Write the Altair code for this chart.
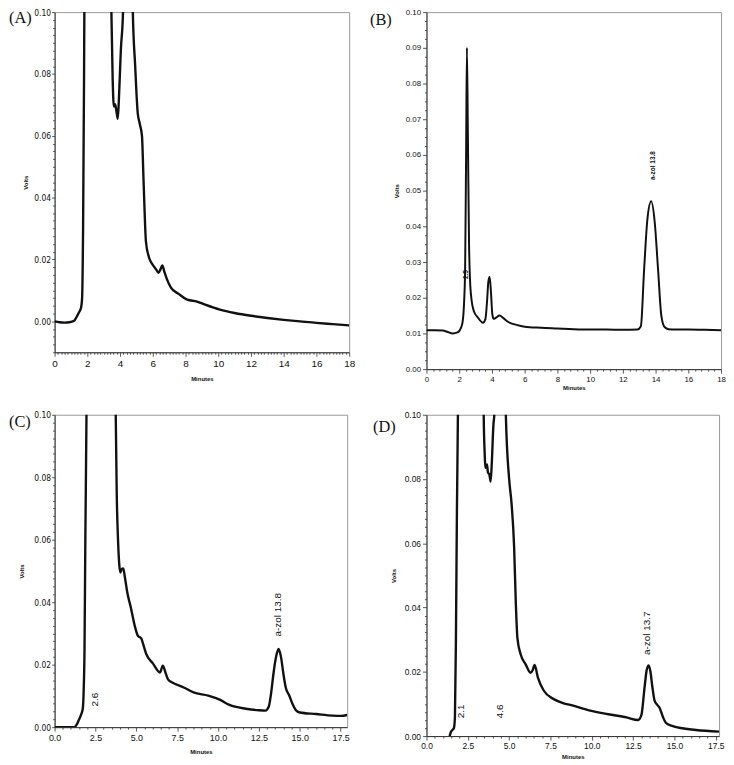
import altair as alt
import pandas as pd
import numpy as np

# ---------------- data (minutes, volts) ----------------
# Panel A
a_x = [0, 0.3, 0.6, 0.9, 1.2, 1.35, 1.5, 1.62, 1.68, 1.74, 1.80, 1.86, 2.2, 3.0, 3.35, 3.47,
       3.55, 3.62, 3.68, 3.72, 3.8, 3.86, 3.93, 4.05, 4.18, 4.3, 4.5, 4.65, 4.78, 4.92, 5.08,
       5.2, 5.34, 5.42, 5.48, 5.58, 5.78, 5.98, 6.2, 6.35, 6.47, 6.58, 6.7, 6.85, 7.1, 7.6,
       8.1, 8.7, 9.2, 10.1, 11.0, 12.0, 13.0, 14.0, 15.0, 16.0, 17.0, 18.0]
a_y = [0.0, -0.0003, -0.0004, -0.0003, 0.0002, 0.0015, 0.0030, 0.0045, 0.0075, 0.030, 0.080, 0.15,
       0.5, 0.5, 0.16, 0.10, 0.078, 0.0695, 0.0702, 0.0698, 0.0672, 0.0655, 0.072, 0.088, 0.10,
       0.14, 0.4, 0.3, 0.10, 0.083, 0.0673, 0.0640, 0.0599, 0.048, 0.0386, 0.0259, 0.0205, 0.0184,
       0.0168, 0.0157, 0.0168, 0.0181, 0.0162, 0.0138, 0.0110, 0.0088, 0.0070, 0.0064, 0.0054,
       0.0038, 0.0027, 0.0018, 0.0011, 0.0005, 0.0000, -0.0005, -0.0009, -0.0013]

# Panel B
b_x = [0, 0.5, 1.0, 1.3, 1.6, 1.9, 2.1, 2.2, 2.3, 2.36, 2.42, 2.47, 2.53, 2.6, 2.66, 2.75, 2.89,
       3.15, 3.45, 3.6, 3.7, 3.78, 3.86, 3.94, 4.02, 4.1, 4.25, 4.46, 4.7, 5.0, 5.5, 6.0, 7.0,
       8.0, 9.0, 10.0, 11.0, 12.0, 12.9, 13.1, 13.3, 13.5, 13.73, 13.95, 14.15, 14.35, 14.55,
       14.8, 15.2, 16.0, 17.0, 18.0]
b_y = [0.0109, 0.0109, 0.0108, 0.0104, 0.0100, 0.0103, 0.0115, 0.0130, 0.0190, 0.0280, 0.0600,
       0.0900, 0.0650, 0.0350, 0.0250, 0.0195, 0.0163, 0.0144, 0.0130, 0.0140, 0.0190, 0.0245,
       0.0258, 0.0215, 0.0155, 0.0141, 0.0144, 0.0150, 0.0143, 0.0132, 0.0124, 0.0119, 0.0116,
       0.0114, 0.0112, 0.0111, 0.0111, 0.0110, 0.0111, 0.0120, 0.0280, 0.0420, 0.0470, 0.0410,
       0.0280, 0.0150, 0.0118, 0.0112, 0.0111, 0.0111, 0.0110, 0.0109]

# Panel C
c_x = [0, 0.8, 1.2, 1.35, 1.5, 1.62, 1.72, 1.78, 1.83, 1.88, 1.95, 2.05, 2.5, 3.4, 3.74, 3.8,
       3.88, 3.95, 4.02, 4.1, 4.2, 4.3, 4.45, 4.65, 4.9, 5.1, 5.3, 5.45, 5.6, 6.0, 6.45, 6.62,
       6.8, 6.95, 7.2, 7.9, 8.5, 9.4, 10.1, 10.7, 11.7, 12.5, 12.9, 13.1, 13.25, 13.4, 13.55,
       13.7, 13.85, 14.0, 14.15, 14.35, 14.55, 14.75, 15.0, 16.0, 17.0, 17.5, 17.9]
c_y = [0.0, 0.0, 0.0, 0.0008, 0.0025, 0.0040, 0.0058, 0.012, 0.025, 0.06, 0.10, 0.2, 0.5, 0.5,
       0.10, 0.075, 0.060, 0.0525, 0.0495, 0.0505, 0.0508, 0.048, 0.043, 0.0386, 0.0325, 0.0292,
       0.0284, 0.026, 0.0235, 0.0205, 0.0175, 0.0197, 0.0172, 0.0152, 0.0143, 0.0127, 0.0111,
       0.0101, 0.0088, 0.0071, 0.0059, 0.0054, 0.0053, 0.0065, 0.011, 0.0175, 0.0225, 0.0250,
       0.0225, 0.017, 0.0125, 0.0102, 0.0075, 0.0055, 0.0047, 0.0042, 0.0037, 0.0036, 0.0039]

# Panel D
d_x = [1.4, 1.47, 1.55, 1.66, 1.72, 1.78, 1.84, 1.9, 2.0, 2.5, 3.2, 3.46, 3.52, 3.56, 3.62,
       3.66, 3.72, 3.8, 3.88, 3.95, 4.05, 4.1, 4.2, 4.5, 4.7, 4.8, 5.0, 5.15, 5.3, 5.4, 5.5,
       5.7, 6.0, 6.3, 6.42, 6.54, 6.74, 7.1, 7.7, 8.3, 8.7, 9.9, 11.0, 12.1, 12.8, 13.0, 13.2,
       13.32, 13.44, 13.55, 13.66, 13.8, 13.95, 14.1, 14.3, 14.5, 14.9, 16.3, 17.7]
d_y = [0.0, 0.0012, 0.0018, 0.0025, 0.006, 0.03, 0.07, 0.10, 0.2, 0.5, 0.5, 0.10, 0.088, 0.0835,
       0.0838, 0.0845, 0.082, 0.0815, 0.0792, 0.085, 0.097, 0.10, 0.15, 0.4, 0.15, 0.10, 0.080,
       0.0721, 0.059, 0.042, 0.0305, 0.0254, 0.0223, 0.0197, 0.0205, 0.0221, 0.0182, 0.0141,
       0.0115, 0.0102, 0.0097, 0.0079, 0.0068, 0.0058, 0.0050, 0.0065, 0.0155, 0.0205, 0.0220,
       0.0200, 0.0155, 0.0110, 0.0098, 0.0088, 0.0060, 0.0040, 0.0031, 0.0019, 0.0014]

# annotations
b_ann_x = [13.85, 2.4]
b_ann_y = [0.057, 0.0265]
b_ann_t = ["a-zol  13.8", "2.5"]
c_ann_x = [13.66, 2.49]
c_ann_y = [0.036, 0.0088]
c_ann_t = ["a-zol  13.8", "2.6"]
d_ann_x = [13.35, 2.06, 4.46]
d_ann_y = [0.032, 0.0077, 0.0077]
d_ann_t = ["a-zol  13.7", "2.1", "4.6"]

# tick labels
ab_x_major = [0, 2, 4, 6, 8, 10, 12, 14, 16, 18]
cd_x_major = [0, 2.5, 5.0, 7.5, 10.0, 12.5, 15.0, 17.5]
acd_y_major = [0.0, 0.02, 0.04, 0.06, 0.08, 0.10]
b_y_major = [0.0, 0.01, 0.02, 0.03, 0.04, 0.05, 0.06, 0.07, 0.08, 0.09, 0.10]

FONT = "Liberation Sans"
NARROW = "Liberation Sans Narrow, Arial Narrow, DejaVu Sans Condensed, Liberation Sans"


def make_axis(major, minor_step, lo, hi, fmt, title, label_size, title_pad,
              major_size=4, label_font=FONT, label_pad=2):
    minor = [round(v, 6) for v in np.arange(lo, hi + 1e-9, minor_step)]
    major = [round(v, 6) for v in major]
    vals = sorted(set(minor) | set(major))
    js = "[" + ",".join(repr(v) for v in major) + "]"
    test = f"indexof({js}, datum.value) >= 0"
    return alt.Axis(
        values=vals,
        labelExpr=f"{test} ? format(datum.value, '{fmt}') : ''",
        tickSize={"condition": {"test": test, "value": major_size}, "value": 2},
        labelOverlap=False,
        labelFlush=False,
        labelFontSize=label_size,
        labelFont=label_font,
        labelPadding=label_pad,
        title=title,
        titleFontSize=6,
        titleFont=FONT,
        titlePadding=title_pad,
        grid=False,
        domainColor="#333",
        tickColor="#555",
        labelColor="#111",
        titleColor="#111",
    )


def panel(xs, ys, xdom, ydom, w, h, xaxis, yaxis, letter, lx, ly, sw,
          ann=None, ann_size=10, ann_weight="normal"):
    df = pd.DataFrame({"t": xs, "v": ys})
    xs_ = alt.Scale(domain=xdom, nice=False, zero=False)
    ys_ = alt.Scale(domain=ydom, nice=False, zero=False)
    line = alt.Chart(df).mark_line(color="#111", strokeWidth=sw, clip=True,
                                   interpolate="monotone").encode(
        x=alt.X("t:Q", scale=xs_, axis=xaxis),
        y=alt.Y("v:Q", scale=ys_, axis=yaxis),
    )
    layers = [line]
    if ann is not None:
        adf = pd.DataFrame({"t": ann[0], "v": ann[1], "label": ann[2]})
        txt = alt.Chart(adf).mark_text(angle=270, align="center", baseline="middle",
                                       font=FONT, fontSize=ann_size, fontWeight=ann_weight,
                                       color="#111").encode(
            x=alt.X("t:Q", scale=xs_, axis=xaxis),
            y=alt.Y("v:Q", scale=ys_, axis=yaxis),
            text="label:N",
        )
        layers.append(txt)
    ldf = pd.DataFrame({"label": [letter]})
    lab = alt.Chart(ldf).mark_text(font="Liberation Serif", fontSize=16.5, align="left",
                                   baseline="middle", color="#111").encode(
        x=alt.value(lx), y=alt.value(ly), text="label:N")
    layers.append(lab)
    return alt.layer(*layers).properties(width=w, height=h)


pA = panel(a_x, a_y, [0, 18], [-0.01, 0.10], 297, 343,
           make_axis(ab_x_major, 0.2, 0, 18, "d", "Minutes", 10, 7),
           make_axis(acd_y_major, 0.0025, -0.01, 0.10, ".2f", "Volts", 8.5, 5,
                     major_size=3, label_font=NARROW, label_pad=1),
           "(A)", -46, 6, 2.4)

pB = panel(b_x, b_y, [0, 18], [0, 0.10], 297, 360,
           make_axis(ab_x_major, 0.4, 0, 18, "d", "Minutes", 8, 2),
           make_axis(b_y_major, 0.0025, 0, 0.10, ".2f", "Volts", 8, 6),
           "(B)", -57, 8, 2.0,
           ann=(b_ann_x, b_ann_y, b_ann_t), ann_size=6.5, ann_weight="bold")

pC = panel(c_x, c_y, [0, 17.9], [0, 0.10], 295, 315,
           make_axis(cd_x_major, 0.5, 0, 17.5, ".1f", "Minutes", 9, 7),
           make_axis(acd_y_major, 0.0025, 0, 0.10, ".2f", "Volts", 8.5, 9,
                     major_size=3, label_font=NARROW, label_pad=1),
           "(C)", -46, 7, 2.4,
           ann=(c_ann_x, c_ann_y, c_ann_t), ann_size=10)

pD = panel(d_x, d_y, [0, 17.7], [0, 0.10], 295, 324,
           make_axis(cd_x_major, 0.5, 0, 17.5, ".1f", "Minutes", 8.5, 3),
           make_axis(acd_y_major, 0.0025, 0, 0.10, ".2f", "Volts", 8.5, 8),
           "(D)", -54, 12, 2.4,
           ann=(d_ann_x, d_ann_y, d_ann_t), ann_size=10)

chart = alt.concat(
    pA, pB, pC, pD, columns=2,
    spacing={"row": 46, "column": 78},
    bounds="flush",
).properties(
    padding={"top": -4, "left": 0, "right": 0, "bottom": 0},
).configure_view(
    stroke="#999", strokeWidth=1,
)

chart.save("out.html", embed_options={"renderer": "svg", "actions": False})
